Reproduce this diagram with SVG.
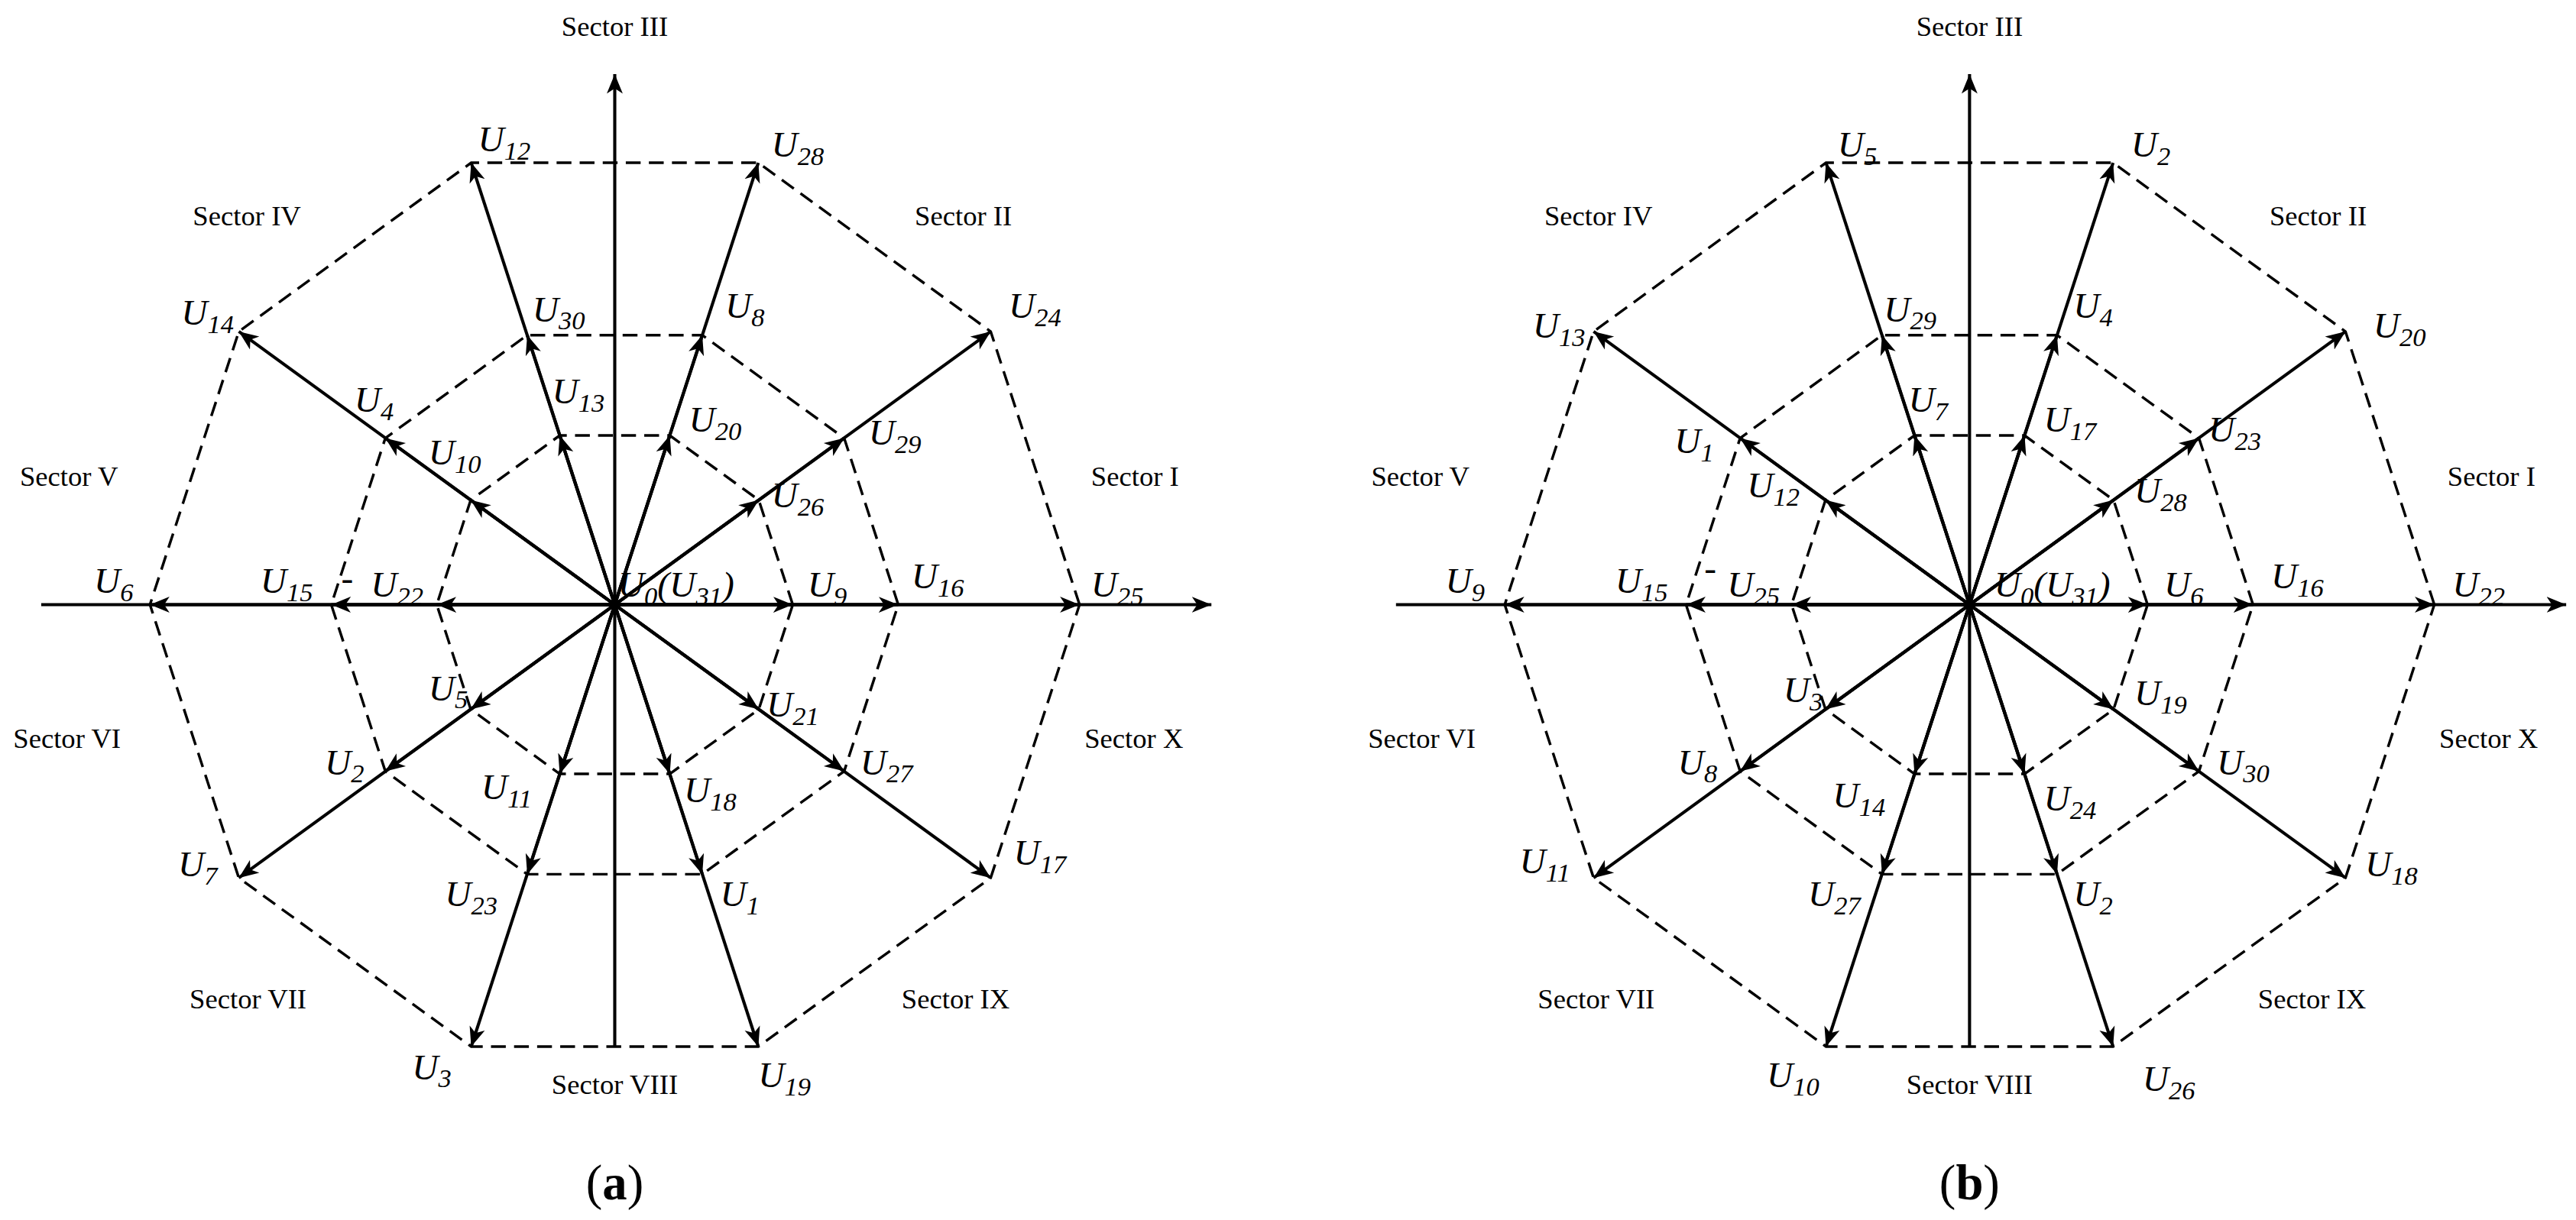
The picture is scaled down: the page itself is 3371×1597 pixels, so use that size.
<svg xmlns="http://www.w3.org/2000/svg" xmlns:xlink="http://www.w3.org/1999/xlink" width="3371" height="1597" viewBox="0 0 3371 1597">
<style>
.d{stroke:#000;stroke-width:1.6;fill:none;stroke-dasharray:9,5}
.a{stroke:#000;stroke-width:1.9;fill:none;marker-end:url(#ah)}
.u{font-family:"Liberation Serif",serif;font-style:italic;font-size:22px}
.sec{font-family:"Liberation Serif",serif;font-size:17px}
.cap{font-family:"Liberation Serif",serif;font-size:30px}
</style>
<defs>
<marker id="ah" markerUnits="userSpaceOnUse" markerWidth="14" markerHeight="12" refX="11" refY="4.5" orient="auto" viewBox="0 0 13 9">
<path d="M0,0 L11,4.5 L0,9 L3,4.5 Z" fill="#000"/>
</marker>
<g id="star">
<polygon class="d" points="282,0 228.1,-165.8 87.1,-268.2 -87.1,-268.2 -228.1,-165.8 -282,0 -228.1,165.8 -87.1,268.2 87.1,268.2 228.1,165.8"/>
<polygon class="d" points="172,0 139.2,-101.1 53.1,-163.6 -53.1,-163.6 -139.2,-101.1 -172,0 -139.2,101.1 -53.1,163.6 53.1,163.6 139.2,101.1"/>
<polygon class="d" points="108,0 87.4,-63.5 33.4,-102.7 -33.4,-102.7 -87.4,-63.5 -108,0 -87.4,63.5 -33.4,102.7 33.4,102.7 87.4,63.5"/>
<line class="a" x1="0" y1="268" x2="0" y2="-322"/>
<line class="a" x1="-348" y1="0" x2="362" y2="0"/>
<line class="a" x1="0" y1="0" x2="282" y2="0"/><line class="a" x1="0" y1="0" x2="172" y2="0"/><line class="a" x1="0" y1="0" x2="108" y2="0"/>
<line class="a" x1="0" y1="0" x2="-282" y2="0"/><line class="a" x1="0" y1="0" x2="-172" y2="0"/><line class="a" x1="0" y1="0" x2="-108" y2="0"/>
<line class="a" x1="0" y1="0" x2="228.1" y2="-165.8"/><line class="a" x1="0" y1="0" x2="139.2" y2="-101.1"/><line class="a" x1="0" y1="0" x2="87.4" y2="-63.5"/>
<line class="a" x1="0" y1="0" x2="87.1" y2="-268.2"/><line class="a" x1="0" y1="0" x2="53.1" y2="-163.6"/><line class="a" x1="0" y1="0" x2="33.4" y2="-102.7"/>
<line class="a" x1="0" y1="0" x2="-87.1" y2="-268.2"/><line class="a" x1="0" y1="0" x2="-53.1" y2="-163.6"/><line class="a" x1="0" y1="0" x2="-33.4" y2="-102.7"/>
<line class="a" x1="0" y1="0" x2="-228.1" y2="-165.8"/><line class="a" x1="0" y1="0" x2="-139.2" y2="-101.1"/><line class="a" x1="0" y1="0" x2="-87.4" y2="-63.5"/>
<line class="a" x1="0" y1="0" x2="-228.1" y2="165.8"/><line class="a" x1="0" y1="0" x2="-139.2" y2="101.1"/><line class="a" x1="0" y1="0" x2="-87.4" y2="63.5"/>
<line class="a" x1="0" y1="0" x2="-87.1" y2="268.2"/><line class="a" x1="0" y1="0" x2="-53.1" y2="163.6"/><line class="a" x1="0" y1="0" x2="-33.4" y2="102.7"/>
<line class="a" x1="0" y1="0" x2="87.1" y2="268.2"/><line class="a" x1="0" y1="0" x2="53.1" y2="163.6"/><line class="a" x1="0" y1="0" x2="33.4" y2="102.7"/>
<line class="a" x1="0" y1="0" x2="228.1" y2="165.8"/><line class="a" x1="0" y1="0" x2="139.2" y2="101.1"/><line class="a" x1="0" y1="0" x2="87.4" y2="63.5"/>
</g>
</defs>
<rect width="3371" height="1597" fill="#fff"/>
<g transform="scale(2.1568)">
<g id="connectors">
<use xlink:href="#star" href="#star" transform="translate(373,367)"/>
<use xlink:href="#star" href="#star" transform="translate(1195,367)"/>
</g>
<g id="labels-a" class="sec">
<text x="373" y="22" text-anchor="middle">Sector III</text>
<text x="117" y="137">Sector IV</text><text x="555" y="137">Sector II</text>
<text x="12" y="295">Sector V</text><text x="662" y="295">Sector I</text>
<text x="8" y="454">Sector VI</text><text x="658" y="454">Sector X</text>
<text x="115" y="612">Sector VII</text><text x="547" y="612">Sector IX</text>
<text x="373" y="664" text-anchor="middle">Sector VIII</text>
</g>
<g id="vec-a" class="u">
<text x="290" y="92">U<tspan font-size="16" dy="5">12</tspan></text>
<text x="468" y="95">U<tspan font-size="16" dy="5">28</tspan></text>
<text x="110" y="197">U<tspan font-size="16" dy="5">14</tspan></text>
<text x="612" y="193">U<tspan font-size="16" dy="5">24</tspan></text>
<text x="323" y="195">U<tspan font-size="16" dy="5">30</tspan></text>
<text x="440" y="193">U<tspan font-size="16" dy="5">8</tspan></text>
<text x="335" y="245">U<tspan font-size="16" dy="5">13</tspan></text>
<text x="418" y="262">U<tspan font-size="16" dy="5">20</tspan></text>
<text x="215" y="250">U<tspan font-size="16" dy="5">4</tspan></text>
<text x="260" y="282">U<tspan font-size="16" dy="5">10</tspan></text>
<text x="527" y="270">U<tspan font-size="16" dy="5">29</tspan></text>
<text x="468" y="308">U<tspan font-size="16" dy="5">26</tspan></text>
<text x="57" y="360">U<tspan font-size="16" dy="5">6</tspan></text>
<text x="158" y="360">U<tspan font-size="16" dy="5">15</tspan></text>
<text x="207" y="358" font-style="normal">-</text>
<text x="225" y="362">U<tspan font-size="16" dy="5">22</tspan></text>
<text x="375" y="362">U<tspan font-size="16" dy="5">0</tspan><tspan dy="-5">(U</tspan><tspan font-size="16" dy="5">31</tspan><tspan dy="-5">)</tspan></text>
<text x="490" y="362">U<tspan font-size="16" dy="5">9</tspan></text>
<text x="553" y="357">U<tspan font-size="16" dy="5">16</tspan></text>
<text x="662" y="362">U<tspan font-size="16" dy="5">25</tspan></text>
<text x="260" y="425">U<tspan font-size="16" dy="5">5</tspan></text>
<text x="465" y="435">U<tspan font-size="16" dy="5">21</tspan></text>
<text x="197" y="470">U<tspan font-size="16" dy="5">2</tspan></text>
<text x="522" y="470">U<tspan font-size="16" dy="5">27</tspan></text>
<text x="292" y="485">U<tspan font-size="16" dy="5">11</tspan></text>
<text x="415" y="487">U<tspan font-size="16" dy="5">18</tspan></text>
<text x="108" y="532">U<tspan font-size="16" dy="5">7</tspan></text>
<text x="615" y="525">U<tspan font-size="16" dy="5">17</tspan></text>
<text x="270" y="550">U<tspan font-size="16" dy="5">23</tspan></text>
<text x="437" y="550">U<tspan font-size="16" dy="5">1</tspan></text>
<text x="250" y="655">U<tspan font-size="16" dy="5">3</tspan></text>
<text x="460" y="660">U<tspan font-size="16" dy="5">19</tspan></text>
</g>
<g id="labels-b" class="sec">
<text x="1195" y="22" text-anchor="middle">Sector III</text>
<text x="937" y="137">Sector IV</text><text x="1377" y="137">Sector II</text>
<text x="832" y="295">Sector V</text><text x="1485" y="295">Sector I</text>
<text x="830" y="454">Sector VI</text><text x="1480" y="454">Sector X</text>
<text x="933" y="612">Sector VII</text><text x="1370" y="612">Sector IX</text>
<text x="1195" y="664" text-anchor="middle">Sector VIII</text>
</g>
<g id="vec-b" class="u">
<text x="1115" y="95">U<tspan font-size="16" dy="5">5</tspan></text>
<text x="1293" y="95">U<tspan font-size="16" dy="5">2</tspan></text>
<text x="930" y="205">U<tspan font-size="16" dy="5">13</tspan></text>
<text x="1440" y="205">U<tspan font-size="16" dy="5">20</tspan></text>
<text x="1143" y="195">U<tspan font-size="16" dy="5">29</tspan></text>
<text x="1258" y="193">U<tspan font-size="16" dy="5">4</tspan></text>
<text x="1158" y="250">U<tspan font-size="16" dy="5">7</tspan></text>
<text x="1240" y="262">U<tspan font-size="16" dy="5">17</tspan></text>
<text x="1016" y="275">U<tspan font-size="16" dy="5">1</tspan></text>
<text x="1340" y="268">U<tspan font-size="16" dy="5">23</tspan></text>
<text x="1060" y="302">U<tspan font-size="16" dy="5">12</tspan></text>
<text x="1295" y="305">U<tspan font-size="16" dy="5">28</tspan></text>
<text x="877" y="360">U<tspan font-size="16" dy="5">9</tspan></text>
<text x="980" y="360">U<tspan font-size="16" dy="5">15</tspan></text>
<text x="1034" y="352" font-style="normal">-</text>
<text x="1048" y="362">U<tspan font-size="16" dy="5">25</tspan></text>
<text x="1210" y="362">U<tspan font-size="16" dy="5">0</tspan><tspan dy="-5">(U</tspan><tspan font-size="16" dy="5">31</tspan><tspan dy="-5">)</tspan></text>
<text x="1313" y="362">U<tspan font-size="16" dy="5">6</tspan></text>
<text x="1378" y="357">U<tspan font-size="16" dy="5">16</tspan></text>
<text x="1488" y="362">U<tspan font-size="16" dy="5">22</tspan></text>
<text x="1082" y="426">U<tspan font-size="16" dy="5">3</tspan></text>
<text x="1295" y="428">U<tspan font-size="16" dy="5">19</tspan></text>
<text x="1018" y="470">U<tspan font-size="16" dy="5">8</tspan></text>
<text x="1345" y="470">U<tspan font-size="16" dy="5">30</tspan></text>
<text x="1112" y="490">U<tspan font-size="16" dy="5">14</tspan></text>
<text x="1240" y="492">U<tspan font-size="16" dy="5">24</tspan></text>
<text x="922" y="530">U<tspan font-size="16" dy="5">11</tspan></text>
<text x="1435" y="532">U<tspan font-size="16" dy="5">18</tspan></text>
<text x="1097" y="550">U<tspan font-size="16" dy="5">27</tspan></text>
<text x="1258" y="550">U<tspan font-size="16" dy="5">2</tspan></text>
<text x="1072" y="660">U<tspan font-size="16" dy="5">10</tspan></text>
<text x="1300" y="662">U<tspan font-size="16" dy="5">26</tspan></text>
</g>
<g id="captions" class="cap">
<text x="373" y="728" text-anchor="middle">(<tspan font-weight="bold">a</tspan>)</text>
<text x="1195" y="728" text-anchor="middle">(<tspan font-weight="bold">b</tspan>)</text>
</g>
</g>
</svg>
